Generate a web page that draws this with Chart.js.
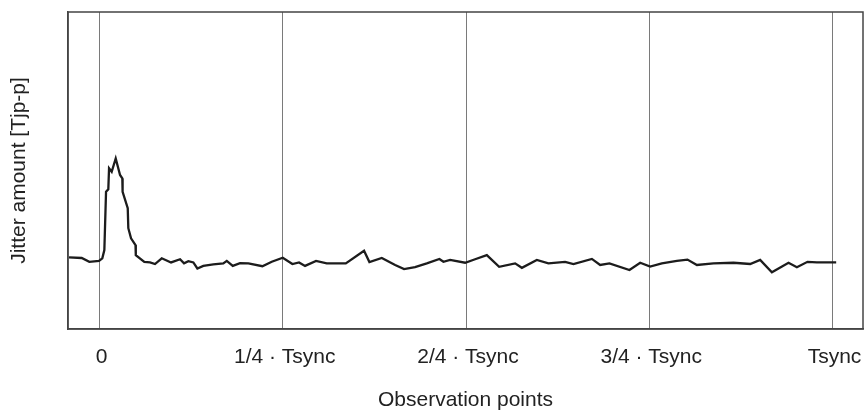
<!DOCTYPE html>
<html>
<head>
<meta charset="utf-8">
<script src="https://cdn.jsdelivr.net/npm/chart.js@4/dist/chart.umd.min.js"></script>
<style>
  html, body { margin: 0; padding: 0; background: #fff; }
  #wrap { width: 868px; height: 411px; }
</style>
</head>
<body>
<div id="wrap"><canvas id="jitter"></canvas></div>
<script>
// observation points, as a fraction of Tsync
const obsPoints = [
  -0.0416, -0.0243, -0.0139, -0.0007, 0.0038, 0.0066, 0.0089, 0.0120, 0.0130, 0.0166,
  0.0221, 0.0280, 0.0311, 0.0315, 0.0385, 0.0393, 0.0430, 0.0491, 0.0495, 0.0611,
  0.0689, 0.0757, 0.0849, 0.0976, 0.1099, 0.1153, 0.1212, 0.1280, 0.1335, 0.1416,
  0.1553, 0.1689, 0.1736, 0.1818, 0.1917, 0.2031, 0.2222, 0.2350, 0.2500, 0.2631,
  0.2722, 0.2804, 0.2954, 0.3100, 0.3360, 0.3609, 0.3682, 0.3851, 0.4033, 0.4155,
  0.4305, 0.4465, 0.4637, 0.4692, 0.4783, 0.4988, 0.5124, 0.5284, 0.5452, 0.5670,
  0.5762, 0.5966, 0.6124, 0.6352, 0.6466, 0.6717, 0.6830, 0.6957, 0.7230, 0.7376,
  0.7512, 0.7672, 0.7877, 0.8021, 0.8150, 0.8376, 0.8649, 0.8877, 0.9013, 0.9173,
  0.9400, 0.9514, 0.9659, 0.9787, 1.0050
];

// jitter amount (relative units, 0 = bottom of plot, 100 = top)
const jitterValues = [
  22.6, 22.4, 21.2, 21.5, 22.3, 24.9, 43.3, 44.1, 50.7, 49.6,
  53.8, 48.6, 47.5, 43.3, 38.1, 31.8, 28.6, 26.5, 23.3, 21.2,
  21.0, 20.5, 22.3, 21.0, 22.0, 20.7, 21.4, 21.0, 19.1, 19.9,
  20.4, 20.7, 21.5, 19.9, 20.8, 20.7, 19.8, 21.2, 22.5, 20.5,
  21.0, 19.9, 21.5, 20.7, 20.7, 24.7, 21.1, 22.4, 20.2, 18.9,
  19.5, 20.7, 22.1, 21.2, 21.8, 20.9, 22.0, 23.3, 19.6, 20.7,
  19.3, 21.8, 20.7, 21.2, 20.5, 22.1, 20.2, 20.7, 18.6, 20.9,
  19.7, 20.7, 21.5, 21.9, 20.2, 20.7, 20.9, 20.5, 21.8, 17.9,
  20.9, 19.5, 21.2, 21.0, 21.0
];

const tickPositions = [0, 0.25, 0.5, 0.75, 1];
const tickLabels = ['0', '1/4 \u00b7 Tsync', '2/4 \u00b7 Tsync', '3/4 \u00b7 Tsync', 'Tsync'];

const fontFamily = 'Arial, "Liberation Sans", Helvetica, sans-serif';
const textColor = '#222';

// closes the plot box on the top and right sides
const frameBox = {
  id: 'frameBox',
  afterDraw(chart) {
    const { ctx, chartArea: a } = chart;
    ctx.save();
    ctx.strokeStyle = '#444';
    ctx.lineWidth = 1.5;
    ctx.strokeRect(a.left, a.top, a.right - a.left, a.bottom - a.top);
    ctx.restore();
  }
};

new Chart(document.getElementById('jitter'), {
  type: 'line',
  data: {
    datasets: [{
      data: obsPoints.map((x, i) => ({ x, y: jitterValues[i] })),
      borderColor: '#1c1c1c',
      borderWidth: 2.3,
      pointRadius: 0,
      tension: 0,
      fill: false
    }]
  },
  options: {
    responsive: true,
    maintainAspectRatio: false,
    animation: false,
    layout: { padding: { left: 0, right: 5, top: 12, bottom: 0 } },
    plugins: { legend: { display: false }, tooltip: { enabled: false } },
    scales: {
      x: {
        type: 'linear',
        min: -0.043,
        max: 1.0416,
        afterBuildTicks: (scale) => { scale.ticks = tickPositions.map(v => ({ value: v })); },
        afterFit: (scale) => {
          scale.height = 82;
          scale.paddingLeft = 0;
          scale.paddingRight = 0;
        },
        ticks: {
          autoSkip: false,
          maxRotation: 0,
          padding: 16,
          labelOffset: 2,
          color: textColor,
          font: { family: fontFamily, size: 21 },
          callback: (value) => tickLabels[tickPositions.indexOf(value)]
        },
        grid: { color: '#7a7a7a', lineWidth: 1, drawTicks: false },
        border: { display: true, color: '#444', width: 1.5 },
        title: {
          display: true,
          text: 'Observation points',
          color: textColor,
          font: { family: fontFamily, size: 21, lineHeight: 1 },
          padding: { top: 0, bottom: 0 }
        }
      },
      y: {
        min: 0,
        max: 100,
        afterFit: (scale) => { scale.width = 68; },
        ticks: { display: false },
        grid: { display: false },
        border: { display: true, color: '#444', width: 1.5 },
        title: {
          display: true,
          text: 'Jitter amount [Tjp-p]',
          color: textColor,
          font: { family: fontFamily, size: 21, lineHeight: 1 },
          padding: { top: 9, bottom: 0 }
        }
      }
    }
  },
  plugins: [frameBox]
});
</script>
</body>
</html>
